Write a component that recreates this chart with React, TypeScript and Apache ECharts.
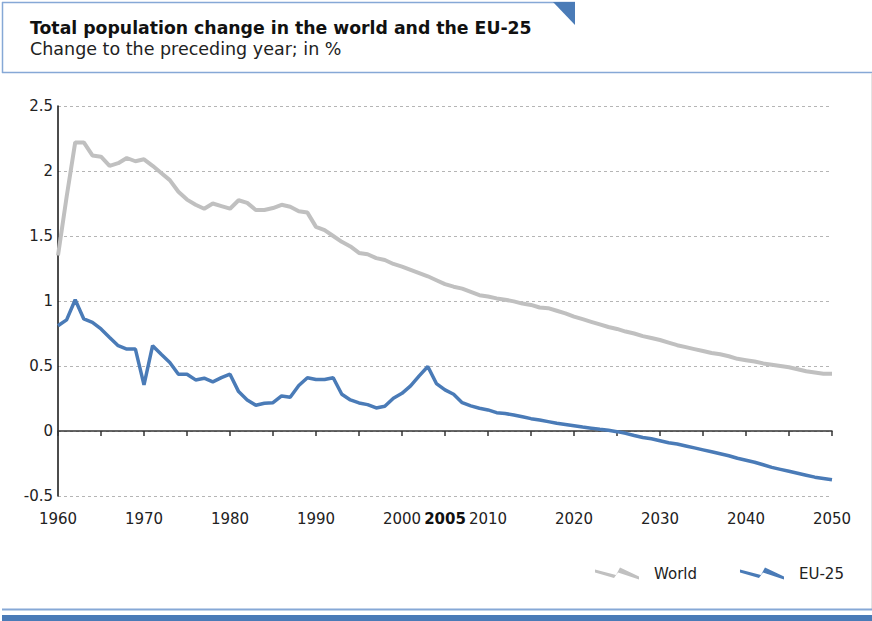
import React, { useEffect, useRef } from "react";
import * as echarts from "echarts";

// Annual population change in %, 1960–2050
const years: number[] = Array.from({ length: 91 }, (_, i) => 1960 + i);

const worldChange: number[] = [
  // 1960s
  1.35, 1.8, 2.22, 2.22, 2.12, 2.11, 2.04, 2.06, 2.1, 2.075,
  // 1970s
  2.09, 2.04, 1.985, 1.93, 1.84, 1.78, 1.74, 1.71, 1.75, 1.73,
  // 1980s
  1.71, 1.775, 1.755, 1.7, 1.7, 1.715, 1.74, 1.725, 1.69, 1.68,
  // 1990s
  1.57, 1.545, 1.5, 1.455, 1.42, 1.37, 1.36, 1.33, 1.315, 1.285,
  // 2000s
  1.265, 1.24, 1.215, 1.19, 1.16, 1.13, 1.11, 1.095, 1.07, 1.045,
  // 2010s
  1.035, 1.02, 1.01, 0.997, 0.98, 0.97, 0.95, 0.945, 0.925, 0.905,
  // 2020s
  0.88, 0.86, 0.84, 0.82, 0.8, 0.785, 0.765, 0.75, 0.73, 0.715,
  // 2030s
  0.7, 0.68, 0.66, 0.645, 0.63, 0.615, 0.6, 0.59, 0.575, 0.555,
  // 2040s
  0.545, 0.535, 0.52, 0.51, 0.5, 0.49, 0.475, 0.46, 0.45, 0.44,
  // 2050
  0.44,
];

const eu25Change: number[] = [
  // 1960s
  0.81, 0.855, 1.01, 0.862, 0.836, 0.785, 0.72, 0.656, 0.63, 0.63,
  // 1970s
  0.355, 0.656, 0.59, 0.527, 0.437, 0.437, 0.393, 0.406, 0.378, 0.41,
  // 1980s
  0.437, 0.303, 0.239, 0.198, 0.213, 0.218, 0.27, 0.26, 0.35, 0.41,
  // 1990s
  0.396, 0.396, 0.41, 0.283, 0.239, 0.216, 0.203, 0.177, 0.19, 0.252,
  // 2000s
  0.29, 0.347, 0.424, 0.496, 0.365, 0.316, 0.283, 0.218, 0.193, 0.175,
  // 2010s
  0.162, 0.141, 0.134, 0.123, 0.11, 0.095, 0.085, 0.072, 0.059, 0.05,
  // 2020s
  0.04, 0.03, 0.022, 0.013, 0.005, -0.005, -0.018, -0.035, -0.05, -0.06,
  // 2030s
  -0.075, -0.09, -0.1, -0.115, -0.13, -0.145, -0.16, -0.175, -0.19, -0.21,
  // 2040s
  -0.225, -0.24, -0.26, -0.28, -0.295, -0.31, -0.325, -0.34, -0.355, -0.365,
  // 2050
  -0.375,
];

// Labelled years on the time axis (2005 is highlighted)
const labelYears: number[] = [1960, 1970, 1980, 1990, 2000, 2005, 2010, 2020, 2030, 2040, 2050];
const highlightYear = 2005;

const seriesNames = ["World", "EU-25"];

const FONT = "'DejaVu Sans', Verdana, sans-serif";
const BLUE = "#4a7bb7";
const LIGHT_BLUE = "#86a8d6";
const GREY_LINE = "#c0c0c0";

const zigzag = "path://M0,2 L21,7.5 L25,0 L44,9 L44,12 L23,5 L19,10.5 L0,5 Z";

const pairs = (vals: number[]) => years.map((y, i) => [y, vals[i]]);

const App: React.FC = () => {
  const ref = useRef<HTMLDivElement>(null);

  useEffect(() => {
    document.body.style.margin = "0";
    if (!ref.current) return;
    const chart = echarts.init(ref.current, null, { renderer: "svg" });

    const option: echarts.EChartsOption = {
      animation: false,
      backgroundColor: "#ffffff",
      textStyle: { fontFamily: FONT },
      title: {
        text: "Total population change in the world and the EU-25",
        subtext: "Change to the preceding year; in %",
        left: 30,
        top: 19,
        itemGap: 4,
        padding: 0,
        textStyle: { fontFamily: FONT, fontSize: 17.3, fontWeight: "bold", color: "#111" },
        subtextStyle: { fontFamily: FONT, fontSize: 17.5, color: "#222" },
      },
      legend: {
        data: [
          { name: seriesNames[0], icon: zigzag },
          { name: seriesNames[1], icon: zigzag },
        ],
        left: 595,
        top: 566,
        itemWidth: 44,
        itemHeight: 12,
        itemGap: 43,
        padding: 0,
        textStyle: { fontFamily: FONT, fontSize: 15, color: "#222", padding: [0, 0, 0, 10] },
      },
      grid: { left: 58, right: 40, top: 106, bottom: 125, containLabel: false },
      xAxis: [
        {
          type: "value",
          position: "bottom",
          min: 1960,
          max: 2050,
          interval: 5,
          axisLine: { show: true, onZero: true, lineStyle: { color: "#333", width: 1.5 } },
          axisTick: { show: true, length: 5, lineStyle: { color: "#333", width: 1.5 } },
          axisLabel: { show: false },
          splitLine: { show: false },
        },
        {
          type: "value",
          position: "bottom",
          min: 1960,
          max: 2050,
          axisLine: { show: false, onZero: false },
          axisTick: { show: false },
          splitLine: { show: false },
          axisLabel: {
            show: true,
            customValues: labelYears,
            margin: 15,
            fontSize: 15,
            color: "#222",
            fontFamily: FONT,
            formatter: (v: number) => (v === highlightYear ? `{b|${v}}` : `${v}`),
            rich: { b: { fontWeight: "bold", fontSize: 15, color: "#111", fontFamily: FONT } },
          },
        },
      ],
      yAxis: {
        type: "value",
        min: -0.5,
        max: 2.5,
        interval: 0.5,
        axisLine: { show: true, lineStyle: { color: "#111", width: 1.5 } },
        axisTick: { show: false },
        axisLabel: { fontSize: 15, color: "#222", margin: 5, fontFamily: FONT },
        splitLine: { show: true, lineStyle: { color: "#b5b5b5", width: 1, type: [3, 3] } },
      },
      series: [
        {
          name: seriesNames[0],
          type: "line",
          xAxisIndex: 0,
          data: pairs(worldChange),
          showSymbol: false,
          color: GREY_LINE,
          lineStyle: { color: GREY_LINE, width: 4 },
        },
        {
          name: seriesNames[1],
          type: "line",
          xAxisIndex: 0,
          data: pairs(eu25Change),
          showSymbol: false,
          color: BLUE,
          lineStyle: { color: BLUE, width: 3.5 },
        },
      ],
      graphic: [
        // heading frame
        { type: "line", shape: { x1: 2, y1: 2.5, x2: 575, y2: 2.5 }, style: { stroke: LIGHT_BLUE, lineWidth: 1.5 } },
        { type: "line", shape: { x1: 2.5, y1: 2, x2: 2.5, y2: 73 }, style: { stroke: LIGHT_BLUE, lineWidth: 1.5 } },
        { type: "line", shape: { x1: 2, y1: 72.5, x2: 872, y2: 72.5 }, style: { stroke: LIGHT_BLUE, lineWidth: 1.5 } },
        { type: "polygon", shape: { points: [[553, 2], [575, 2], [575, 25]] }, style: { fill: BLUE } },
        // right edge
        { type: "line", shape: { x1: 871.5, y1: 73, x2: 871.5, y2: 609 }, style: { stroke: "#e4e4e4", lineWidth: 1 } },
        // footer bands
        { type: "line", shape: { x1: 2, y1: 609.5, x2: 872, y2: 609.5 }, style: { stroke: LIGHT_BLUE, lineWidth: 2 } },
        { type: "rect", shape: { x: 2, y: 615, width: 870, height: 6 }, style: { fill: BLUE } },
      ],
    };

    chart.setOption(option);
    return () => chart.dispose();
  }, []);

  return <div ref={ref} style={{ width: 872, height: 621 }} />;
};

export default App;
